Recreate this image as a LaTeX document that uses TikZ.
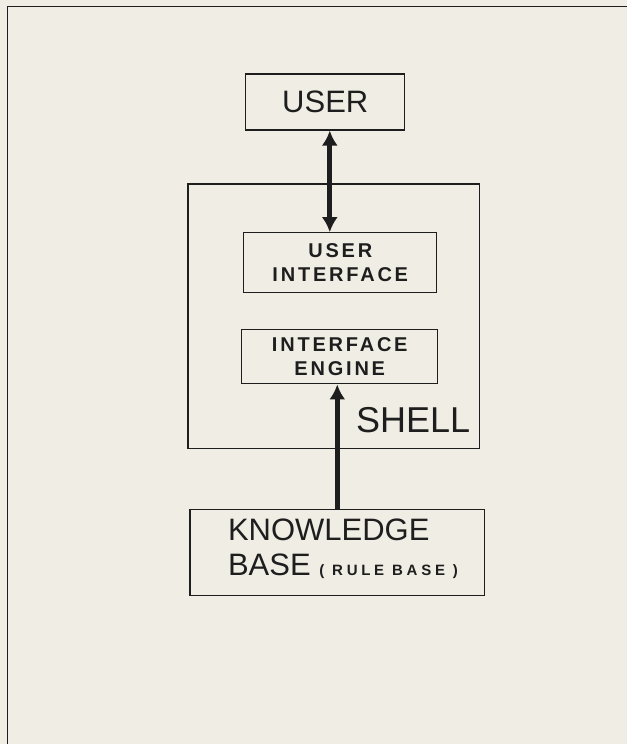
\documentclass[tikz,border=0pt]{standalone}
\usepackage{fontspec}
\setmainfont{Liberation Sans}
\usepackage{xcolor}
\usetikzlibrary{arrows.meta}

\definecolor{ink}{HTML}{1E1E1E}
\definecolor{paper}{HTML}{F0EEE4}

\newcommand\smallcaption{\bfseries\fontsize{20}{24}\selectfont\addfontfeature{LetterSpace=14}}
\newcommand\rulenote[1]{{\bfseries\fontsize{15}{15}\selectfont\addfontfeature{LetterSpace=25}#1}}

\begin{document}
\begin{tikzpicture}[x=1pt, y=-1pt, >={Latex[length=15pt,width=16pt]},
	box/.style={rectangle, draw=ink, line width=1.3pt, inner sep=0pt, text=ink},
	conn/.style={line width=5pt, draw=ink}]
	% paper and frame
	\fill[paper] (0,0) rectangle (627,744);
	\draw[ink, line width=1pt] (8,744) -- (8,7) -- (627,7);

	\node[box, minimum width=159pt, minimum height=56pt, font=\fontsize{31}{35}\selectfont](user) at (325.5,102){USER};
	\node[box, minimum width=292pt, minimum height=265pt](shell) at (334,316.5){};
	\node[box, minimum width=193pt, minimum height=60pt, align=center, font=\smallcaption](ui) at (340.5,263){USER\\INTERFACE};
	\node[box, minimum width=196pt, minimum height=54pt, align=center, font=\smallcaption](engine) at (340,357){INTERFACE\\ENGINE};
	\node[box, minimum width=295pt, minimum height=86pt](kb) at (337.5,553){};
	\node[inner sep=0pt, anchor=west, align=left, text=ink, font=\fontsize{31}{35}\selectfont](kbtext) at (228,549.5){KNOWLEDGE\\BASE\ \rulenote{( RULE BASE )}};
	\node[inner sep=0pt, text=ink, font=\fontsize{36}{40}\selectfont](shelltext) at (413.5,420){SHELL};

	\draw[conn, <->] ([xshift=4.5pt]user.south) -- ([xshift=-10.5pt]ui.north);
	\draw[conn, ->] (kb.north) -- (kb.north |- engine.south);
\end{tikzpicture}
\end{document}
